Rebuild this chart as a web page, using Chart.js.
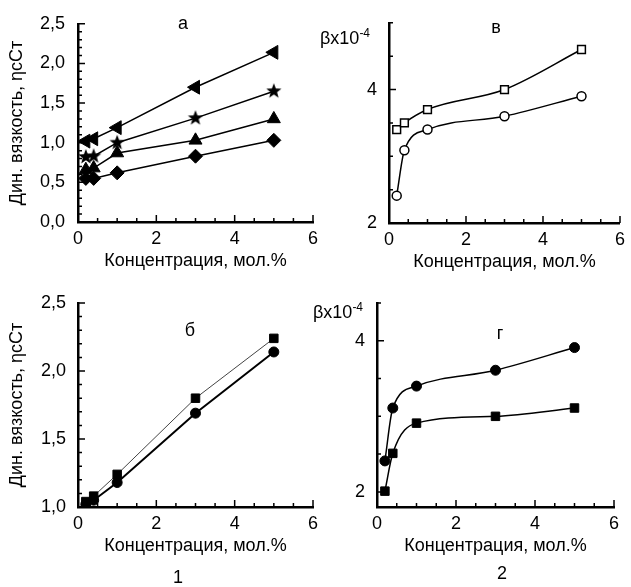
<!DOCTYPE html>
<html>
<head>
<meta charset="utf-8">
<script src="https://cdn.jsdelivr.net/npm/chart.js@4"></script>
<style>
body { margin: 0; background: #fff; }
#wrap { position: relative; width: 631px; height: 587px; font-family: "Liberation Sans", Arial, sans-serif; color: #000; }
canvas { position: absolute; left: 0; top: 0; }
.lbl { position: absolute; font-size: 18px; transform: translate(-50%, -50%); white-space: nowrap; }
.beta { position: absolute; font-size: 18px; transform: translateY(-50%); white-space: nowrap; }
.beta span { font-size: 12px; position: relative; top: -7px; }
</style>
</head>
<body>
<div id="wrap">
  <canvas id="panelA" width="631" height="587"></canvas>
  <canvas id="panelV" width="631" height="587"></canvas>
  <canvas id="panelB" width="631" height="587"></canvas>
  <canvas id="panelG" width="631" height="587"></canvas>

  <div class="lbl" style="left:183px;top:23px">а</div>
  <div class="lbl" style="left:496px;top:27px">в</div>
  <div class="lbl" style="left:190px;top:330px">б</div>
  <div class="lbl" style="left:500px;top:333px">г</div>
  <div class="beta" style="left:320px;top:38px">βx10<span>-4</span></div>
  <div class="beta" style="left:313px;top:312px">βx10<span>-4</span></div>
  <div class="lbl" style="left:178px;top:577px">1</div>
  <div class="lbl" style="left:502px;top:573px">2</div>
</div>

<script>
// concentration, mol.%
const conc = [0.2, 0.4, 1, 3, 5];

// panel а - dynamic viscosity
const aTriLeft = [1.02, 1.05, 1.19, 1.70, 2.14];
const aStar    = [0.82, 0.83, 1.00, 1.31, 1.65];
const aTriUp   = [0.66, 0.68, 0.87, 1.03, 1.30];
const aDiamond = [0.55, 0.55, 0.62, 0.83, 1.03];

// panel в - beta x10^-4
const vSquare = [3.40, 3.50, 3.70, 4.00, 4.60];
const vCircle = [2.41, 3.09, 3.40, 3.60, 3.90];

// panel б - dynamic viscosity
const bSquare = [1.04, 1.08, 1.24, 1.80, 2.24];
const bCircle = [1.02, 1.05, 1.18, 1.69, 2.14];

// panel г - beta x10^-4
const gCircle = [2.41, 3.11, 3.40, 3.61, 3.91];
const gSquare = [2.01, 2.51, 2.91, 3.00, 3.11];

// tick labels
const xTicks = [0, 2, 4, 6];
const yTicksVisc = [0, 0.5, 1.0, 1.5, 2.0, 2.5];
const yTicksVisc2 = [1.0, 1.5, 2.0, 2.5];
const yTicksBeta = [2, 4];

const xTitle = 'Концентрация, мол.%';
const yTitle = 'Дин. вязкость, ηсСт';

const font = { family: '"Liberation Sans", Arial, sans-serif', size: 18 };
const Y_W = 77;
const X_H = 50;

const pts = arr => conc.map((x, i) => ({ x: x, y: arr[i] }));

// filled five point star
function makeStar(r) {
  const c = document.createElement('canvas');
  c.width = c.height = Math.ceil(2 * r + 2);
  const ctx = c.getContext('2d');
  const cx = c.width / 2, cy = c.height / 2;
  ctx.beginPath();
  for (let i = 0; i < 10; i++) {
    const rr = i % 2 === 0 ? r : r * 0.42;
    const a = -Math.PI / 2 + i * Math.PI / 5;
    ctx.lineTo(cx + rr * Math.cos(a), cy + rr * Math.sin(a));
  }
  ctx.closePath();
  ctx.fillStyle = '#000';
  ctx.fill();
  return c;
}

// inward major/minor tick marks along both axes
const axisTicks = {
  id: 'axisTicks',
  afterDraw(chart, args, o) {
    const ctx = chart.ctx;
    const xs = chart.scales.x, ys = chart.scales.y;
    const area = chart.chartArea;
    ctx.save();
    ctx.strokeStyle = '#000';
    ctx.lineWidth = 1.5;
    const each = (scale, step, major, fn) => {
      const n0 = Math.ceil(scale.min / step - 1e-6), n1 = Math.floor(scale.max / step + 1e-6);
      for (let n = n0; n <= n1; n++) {
        const v = n * step;
        const isMajor = Math.abs(v / major - Math.round(v / major)) < 1e-6;
        fn(scale.getPixelForValue(v), isMajor ? 7 : 4);
      }
    };
    ctx.beginPath();
    each(xs, o.xMinor, o.xMajor, (px, len) => { ctx.moveTo(px, area.bottom); ctx.lineTo(px, area.bottom - len); });
    each(ys, o.yMinor, o.yMajor, (py, len) => { ctx.moveTo(area.left, py); ctx.lineTo(area.left + len, py); });
    ctx.stroke();
    ctx.restore();
  }
};

function panel(id, area, yMin, yMax, yTicks, yFmt, yPad, showYTitle, steps, datasets) {
  return new Chart(document.getElementById(id), {
    type: 'line',
    data: { datasets: datasets },
    options: {
      responsive: false,
      animation: false,
      devicePixelRatio: 1,
      layout: { padding: { left: area.l - Y_W, top: area.t, right: 631 - area.r, bottom: 587 - area.b - X_H } },
      plugins: { legend: { display: false }, tooltip: { enabled: false }, axisTicks: steps },
      scales: {
        x: {
          type: 'linear', min: 0, max: 6,
          afterBuildTicks: s => { s.ticks = xTicks.map(v => ({ value: v })); },
          afterFit: s => { s.height = X_H; },
          grid: { display: false, drawTicks: false },
          border: { color: '#000', width: 2.5 },
          ticks: { color: '#000', font: font, padding: 6, maxRotation: 0 },
          title: { display: true, text: xTitle, color: '#000', font: font, padding: 0 }
        },
        y: {
          type: 'linear', min: yMin, max: yMax,
          afterBuildTicks: s => { s.ticks = yTicks.map(v => ({ value: v })); },
          afterFit: s => { s.width = Y_W; },
          grid: { display: false, drawTicks: false },
          border: { color: '#000', width: 2.5 },
          ticks: { color: '#000', font: font, padding: yPad, callback: yFmt },
          title: { display: showYTitle, text: yTitle, color: '#000', font: font, padding: { top: 5, bottom: 0 } }
        }
      }
    },
    plugins: [axisTicks]
  });
}

const comma = v => v.toFixed(1).replace('.', ',');
const plain = v => String(v);

const line = (arr, style, extra) => Object.assign({
  data: pts(arr),
  borderColor: '#000',
  borderWidth: 1.5,
  backgroundColor: '#000',
  pointBorderColor: '#000',
  pointBackgroundColor: '#000',
  pointStyle: style,
  pointRadius: 5,
  pointBorderWidth: 1,
  tension: 0
}, extra || {});

// а
panel('panelA', { l: 78, t: 20, r: 313, b: 222 }, 0, 2.5, yTicksVisc, comma, 13, true,
  { xMinor: 0.5, xMajor: 2, yMinor: 0.1, yMajor: 0.5 }, [
    line(aTriLeft, 'triangle', { pointRadius: 8, pointRotation: -90 }),
    line(aStar, makeStar(8), {}),
    line(aTriUp, 'triangle', { pointRadius: 7.5 }),
    line(aDiamond, 'rectRot', { pointRadius: 7 })
  ]);

// в
panel('panelV', { l: 389, t: 19, r: 627, b: 223 }, 2, 5, yTicksBeta, plain, 12, false,
  { xMinor: 0.5, xMajor: 2, yMinor: 0.5, yMajor: 2 }, [
    line(vSquare, 'rect', { pointRadius: 5.5, pointBackgroundColor: '#fff', pointBorderWidth: 1.5, cubicInterpolationMode: 'monotone' }),
    line(vCircle, 'circle', { pointRadius: 4.5, pointBackgroundColor: '#fff', pointBorderWidth: 1.5, cubicInterpolationMode: 'monotone' })
  ]);

// б
panel('panelB', { l: 78, t: 303, r: 313, b: 507 }, 1.0, 2.5, yTicksVisc2, comma, 12, true,
  { xMinor: 0.5, xMajor: 2, yMinor: 0.1, yMajor: 0.5 }, [
    line(bSquare, 'rect', { pointRadius: 6, borderWidth: 1, borderColor: '#444' }),
    line(bCircle, 'circle', { pointRadius: 5, borderWidth: 2 })
  ]);

// г
panel('panelG', { l: 377, t: 303, r: 614, b: 507 }, 1.8, 4.5, yTicksBeta, plain, 12, false,
  { xMinor: 0.5, xMajor: 2, yMinor: 0.5, yMajor: 2 }, [
    line(gCircle, 'circle', { pointRadius: 5, cubicInterpolationMode: 'monotone' }),
    line(gSquare, 'rect', { pointRadius: 6, cubicInterpolationMode: 'monotone' })
  ]);
</script>
</body>
</html>
